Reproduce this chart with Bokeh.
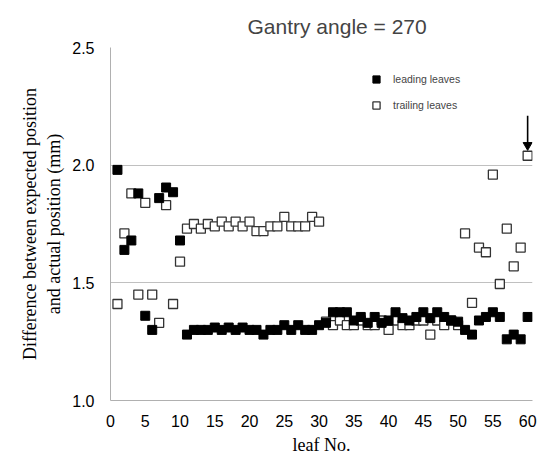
from bokeh.plotting import figure
from bokeh.models import Legend, LegendItem, FixedTicker, Range1d, CustomJSTickFormatter
from bokeh.embed import file_html
from bokeh.resources import INLINE

leaf = list(range(1, 61))

leading = [1.98, 1.64, 1.68, 1.88, 1.36, 1.30, 1.86, 1.905, 1.885, 1.68,
           1.28, 1.30, 1.30, 1.30, 1.31, 1.30, 1.31, 1.30, 1.31, 1.30,
           1.30, 1.28, 1.30, 1.30, 1.32, 1.30, 1.32, 1.30, 1.30, 1.32,
           1.33, 1.375, 1.375, 1.375, 1.34, 1.355, 1.33, 1.355, 1.33, 1.34,
           1.375, 1.35, 1.34, 1.355, 1.375, 1.35, 1.375, 1.355, 1.34, 1.335,
           1.30, 1.28, 1.34, 1.355, 1.375, 1.355, 1.26, 1.28, 1.26, 1.355]

trailing = [1.41, 1.71, 1.88, 1.45, 1.84, 1.45, 1.33, 1.83, 1.41, 1.59,
            1.73, 1.75, 1.73, 1.75, 1.74, 1.76, 1.74, 1.76, 1.74, 1.76,
            1.72, 1.72, 1.74, 1.74, 1.78, 1.74, 1.74, 1.74, 1.78, 1.76,
            1.335, 1.32, 1.34, 1.32, 1.32, 1.34, 1.32, 1.32, 1.34, 1.30,
            1.34, 1.32, 1.32, 1.34, 1.34, 1.28, 1.34, 1.32, 1.34, 1.32,
            1.71, 1.415, 1.65, 1.63, 1.96, 1.495, 1.73, 1.57, 1.65, 2.04]

x_ticks = list(range(0, 61, 5))
y_ticks = [1.0, 1.5, 2.0, 2.5]

title_text = "Gantry angle = 270"

arrow_x = [60]
arrow_y_start = [2.21]
arrow_y_end = [2.075]
arrow_head_y = [2.085]

p = figure(width=544, height=474, output_backend="svg", toolbar_location=None,
           x_range=Range1d(0, 60.7), y_range=Range1d(1.0, 2.5),
           min_border_left=110, min_border_right=12, min_border_top=47, min_border_bottom=74)

p.title.text = title_text
p.title.align = "left"
p.title.offset = 137
p.title.text_font = "Liberation Sans"
p.title.text_font_size = "21px"
p.title.text_font_style = "normal"
p.title.standoff = 20

p.xgrid.visible = False
p.ygrid.grid_line_color = "#c0c0c0"
p.ygrid.grid_line_width = 1
p.outline_line_color = None

p.xaxis.ticker = FixedTicker(ticks=x_ticks)
p.yaxis.ticker = FixedTicker(ticks=y_ticks)
p.yaxis.formatter = CustomJSTickFormatter(code="return tick.toFixed(1);")

for ax in (p.xaxis, p.yaxis):
    ax.axis_line_color = "#b0b0b0"
    ax.major_tick_line_color = None
    ax.minor_tick_line_color = None
    ax.major_label_text_font = "Liberation Sans"
    ax.major_label_text_font_size = "16px"
    ax.major_label_text_color = "#000000"
    ax.axis_label_text_font = "Liberation Serif"
    ax.axis_label_text_font_size = "18px"
    ax.axis_label_text_font_style = "normal"
    ax.axis_label_text_color = "#000000"

p.xaxis.axis_label = "leaf No."
p.yaxis.axis_label = "Difference between expected position\nand actual position (mm)"
p.xaxis.major_label_standoff = 8
p.yaxis.major_label_standoff = 10

r_trail = p.scatter(leaf, trailing, marker="square", size=9, fill_color="white",
                    line_color="#333333", line_width=1.3)
r_lead = p.scatter(leaf, leading, marker="square", size=9, fill_color="black",
                   line_color="black", line_width=1)

# arrow pointing at the last trailing point
p.segment(x0=arrow_x, y0=arrow_y_start, x1=arrow_x, y1=arrow_y_end,
          line_color="black", line_width=1.6)
p.scatter(arrow_x, arrow_head_y, marker="inverted_triangle", size=9,
          fill_color="black", line_color="black")

legend = Legend(items=[LegendItem(label="leading leaves", renderers=[r_lead]),
                       LegendItem(label="trailing leaves", renderers=[r_trail])],
                location=(257, 285), background_fill_alpha=0, border_line_color=None,
                label_text_font="Liberation Sans", label_text_font_size="10.5px",
                glyph_width=18, glyph_height=20, label_height=20, spacing=6,
                padding=0, margin=0, label_standoff=8)
p.add_layout(legend)

open("out.html", "w").write(file_html(p, INLINE))
